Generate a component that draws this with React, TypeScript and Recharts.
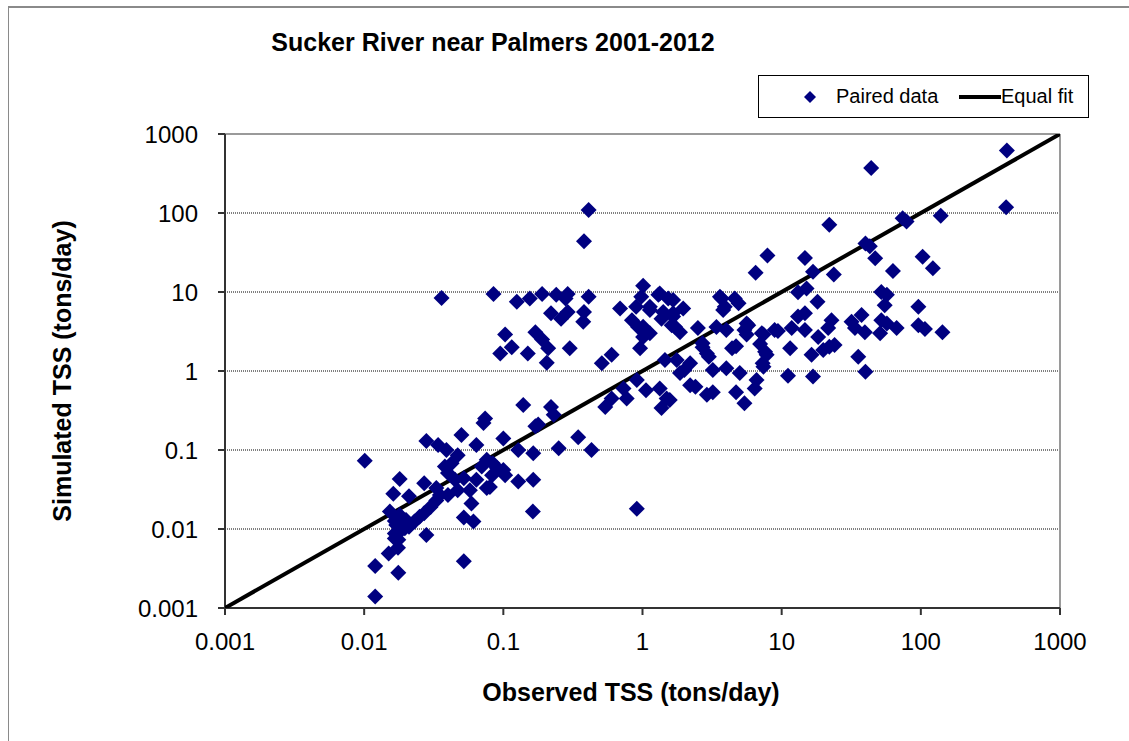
import {
  CartesianGrid,
  ReferenceLine,
  Scatter,
  ScatterChart,
  XAxis,
  YAxis,
} from "recharts";

const FONT = '"Liberation Sans", Arial, Helvetica, sans-serif';
const NAVY = "#000080";

const axisTicks = [0.001, 0.01, 0.1, 1, 10, 100, 1000];

// observed TSS (tons/day), paired with simulated below
const observed = [
  0.0101, 0.012, 0.012, 0.0176, 0.015, 0.0153, 0.0162, 0.018, 0.021, 0.027,
  0.028, 0.028, 0.034, 0.039, 0.05, 0.072, 0.064, 0.047, 0.1, 0.139,
  0.17, 0.128, 0.164, 0.164, 0.128, 0.1, 0.163, 0.052, 0.052, 0.061,
  0.059, 0.047, 0.045, 0.04, 0.038, 0.0425, 0.052, 0.064, 0.076, 0.07,
  0.076, 0.084, 0.09, 0.083, 0.04, 0.035, 0.033, 0.03, 0.027, 0.025,
  0.023, 0.021, 0.0196, 0.018, 0.0166, 0.0176, 0.017, 0.018, 0.0166, 0.0175,
  0.033, 0.0575, 0.02, 0.0166, 0.08, 0.103, 0.074, 0.22, 0.23, 0.178,
  0.25, 0.345, 0.43, 0.91, 0.54, 0.6, 0.73, 0.77, 0.91, 1.06,
  1.33, 1.49, 1.37, 1.86, 2.2, 2.4, 2.9, 3.2, 4.0, 5.0,
  4.7, 5.4, 6.4, 6.6, 7.4, 2.0, 1.76, 1.57, 3.0, 3.2,
  11.1, 16.8, 40, 0.036, 0.085, 0.125, 0.155, 0.19, 0.24, 0.29,
  0.28, 0.41, 0.22, 0.26, 0.29, 0.375, 0.38, 0.69, 0.103, 0.115,
  0.095, 0.17, 0.19, 0.21, 0.15, 0.205, 0.3, 0.51, 0.6, 1.01,
  0.98, 0.9, 0.84, 0.93, 1.01, 0.96, 1.3, 1.53, 1.13, 1.37,
  1.66, 1.45, 1.96, 1.66, 1.62, 1.86, 2.5, 3.4, 4.0, 5.6,
  5.6, 7.4, 9.4, 3.7, 4.6, 3.9, 4.9, 3.8, 6.5, 7.9,
  2.7, 4.4, 4.7, 7.0, 7.6, 7.3, 7.8, 2.2, 2.9, 1.41,
  1.13, 14.7, 22, 16.8, 23.7, 13.1, 15.1, 18.1, 13.1, 14.7,
  14.7, 11.8, 18.3, 22.8, 21.6, 31.8, 37.5, 39.6, 33.6, 52,
  57, 67, 51, 96, 96, 107, 143, 52, 57, 55,
  63, 103, 122, 47, 40, 43, 74, 79, 139, 44,
  415, 410, 11.5, 16.4, 19.9, 24, 22, 35.5, 0.41, 0.38,
  1.13, 1.66, 1.71, 1.33, 2.7, 3.6, 5.75, 5.4, 7.2, 8.9,
  1.01,
];

// simulated TSS (tons/day)
const simulated = [
  0.073, 0.0014, 0.0034, 0.0028, 0.0049, 0.0166, 0.028, 0.043, 0.026, 0.038,
  0.0084, 0.13, 0.116, 0.1, 0.155, 0.22, 0.116, 0.086, 0.14, 0.37,
  0.2, 0.1, 0.091, 0.042, 0.04, 0.056, 0.0166, 0.0039, 0.014, 0.0124,
  0.021, 0.031, 0.042, 0.051, 0.062, 0.068, 0.044, 0.042, 0.033, 0.062,
  0.075, 0.068, 0.059, 0.048, 0.027, 0.027, 0.023, 0.019, 0.0158, 0.0143,
  0.0124, 0.0107, 0.0102, 0.0092, 0.0088, 0.0073, 0.0112, 0.015, 0.0126, 0.0058,
  0.033, 0.031, 0.013, 0.0076, 0.034, 0.048, 0.25, 0.35, 0.28, 0.21,
  0.105, 0.145, 0.1, 0.018, 0.35, 0.45, 0.6, 0.45, 0.77, 0.57,
  0.6, 0.45, 0.34, 0.94, 0.66, 0.63, 0.5, 0.54, 1.08, 0.94,
  0.54, 0.39, 0.6, 0.77, 1.13, 1.03, 1.38, 0.43, 1.52, 1.03,
  0.87, 0.85, 0.98, 8.4, 9.4, 7.5, 8.3, 9.4, 9.2, 9.4,
  8.3, 8.7, 5.4, 4.6, 5.6, 4.2, 5.6, 6.2, 2.9, 2.0,
  1.67, 3.1, 2.5, 1.94, 1.67, 1.27, 1.94, 1.25, 1.6, 12,
  8.7, 6.5, 4.4, 3.6, 2.7, 1.94, 9.2, 8.3, 6.5, 4.6,
  5.4, 1.38, 6.2, 7.9, 3.8, 3.1, 3.5, 3.6, 3.3, 4.0,
  2.9, 2.9, 3.2, 8.3, 8.3, 6.5, 7.2, 5.9, 17.5, 29,
  2.0, 1.94, 2.05, 2.2, 1.75, 1.25, 1.6, 1.25, 1.67, 5.6,
  3.0, 27, 71, 18, 16.7, 9.9, 11.1, 7.5, 4.9, 5.4,
  3.3, 3.5, 2.7, 4.4, 3.5, 4.2, 5.1, 3.1, 3.5, 4.4,
  4.0, 3.5, 3.0, 6.5, 3.8, 3.4, 3.1, 10, 9.2, 6.8,
  18.4, 28, 20, 26.7, 41, 38, 86, 78, 92, 370,
  620, 118, 1.94, 1.6, 1.85, 2.13, 2.03, 1.52, 109, 44,
  5.9, 4.9, 3.64, 9.6, 2.24, 8.7, 3.8, 3.3, 3.0, 3.3,
  3.64,
];

const paired = observed.map((x, i) => ({ x, y: simulated[i] }));
const equalFit = [
  { x: 0.001, y: 0.001 },
  { x: 1000, y: 1000 },
];

function Diamond(props: any) {
  const { cx, cy } = props;
  if (cx == null || cy == null) return null;
  const r = 8;
  return (
    <polygon
      points={`${cx},${cy - r} ${cx + r},${cy} ${cx},${cy + r} ${cx - r},${cy}`}
      fill={NAVY}
    />
  );
}

const tickStyle = { fill: "#000", fontSize: 24, fontFamily: FONT };

export default function App() {
  return (
    <div
      style={{
        position: "absolute",
        left: 0,
        top: 0,
        width: 1129,
        height: 741,
        background: "#fff",
        overflow: "hidden",
        fontFamily: FONT,
      }}
    >
      {/* chart area frame, only top and left edges visible */}
      <div style={{ position: "absolute", left: 8, top: 6, right: 0, height: 2, background: "#8a8a8a" }} />
      <div style={{ position: "absolute", left: 8, top: 6, bottom: 0, width: 1, background: "#8a8a8a" }} />

      <div
        style={{
          position: "absolute",
          left: 493,
          top: 42,
          transform: "translate(-50%, -50%)",
          fontSize: 25,
          fontWeight: "bold",
          whiteSpace: "nowrap",
        }}
      >
        Sucker River near Palmers 2001-2012
      </div>

      <div style={{ position: "absolute", left: 0, top: 0 }}>
        <ScatterChart
          width={1129}
          height={741}
          margin={{ top: 134, right: 69, bottom: 73, left: 145 }}
        >
          <CartesianGrid vertical={false} stroke="#000" strokeDasharray="1 1" />
          <XAxis
            type="number"
            dataKey="x"
            scale="log"
            domain={[0.001, 1000]}
            ticks={axisTicks}
            allowDataOverflow
            tickFormatter={(v) => String(v)}
            height={60}
            stroke="#333"
            strokeWidth={2}
            tickSize={7}
            tickMargin={18}
            tick={tickStyle}
          />
          <YAxis
            type="number"
            dataKey="y"
            scale="log"
            domain={[0.001, 1000]}
            ticks={axisTicks}
            allowDataOverflow
            tickFormatter={(v) => String(v)}
            width={80}
            stroke="#333"
            strokeWidth={2}
            tickSize={7}
            tickMargin={20}
            tick={tickStyle}
          />
          <ReferenceLine y={1000} stroke="#9a9a9a" strokeWidth={2} />
          <ReferenceLine x={1000} stroke="#9a9a9a" strokeWidth={2} />
          <Scatter
            data={equalFit}
            line={{ stroke: "#000", strokeWidth: 4 }}
            shape={() => <g />}
            isAnimationActive={false}
          />
          <Scatter data={paired} shape={Diamond} isAnimationActive={false} />
        </ScatterChart>
      </div>

      <div
        style={{
          position: "absolute",
          left: 62,
          top: 371,
          transform: "translate(-50%, -50%) rotate(-90deg)",
          fontSize: 25,
          fontWeight: "bold",
          whiteSpace: "nowrap",
        }}
      >
        Simulated TSS (tons/day)
      </div>
      <div
        style={{
          position: "absolute",
          left: 631,
          top: 692,
          transform: "translate(-50%, -50%)",
          fontSize: 25,
          fontWeight: "bold",
          whiteSpace: "nowrap",
        }}
      >
        Observed TSS (tons/day)
      </div>

      {/* legend */}
      <div
        style={{
          position: "absolute",
          left: 758,
          top: 75,
          width: 331,
          height: 43,
          border: "1px solid #000",
          boxSizing: "border-box",
          fontSize: 20,
        }}
      >
        <svg width={12} height={12} style={{ position: "absolute", left: 45, top: 15 }}>
          <polygon points="6,0 12,6 6,12 0,6" fill={NAVY} />
        </svg>
        <span style={{ position: "absolute", left: 77, top: 9, whiteSpace: "nowrap" }}>Paired data</span>
        <div style={{ position: "absolute", left: 200, top: 19, width: 42, height: 4, background: "#000" }} />
        <span style={{ position: "absolute", left: 242, top: 9, whiteSpace: "nowrap" }}>Equal fit</span>
      </div>
    </div>
  );
}
